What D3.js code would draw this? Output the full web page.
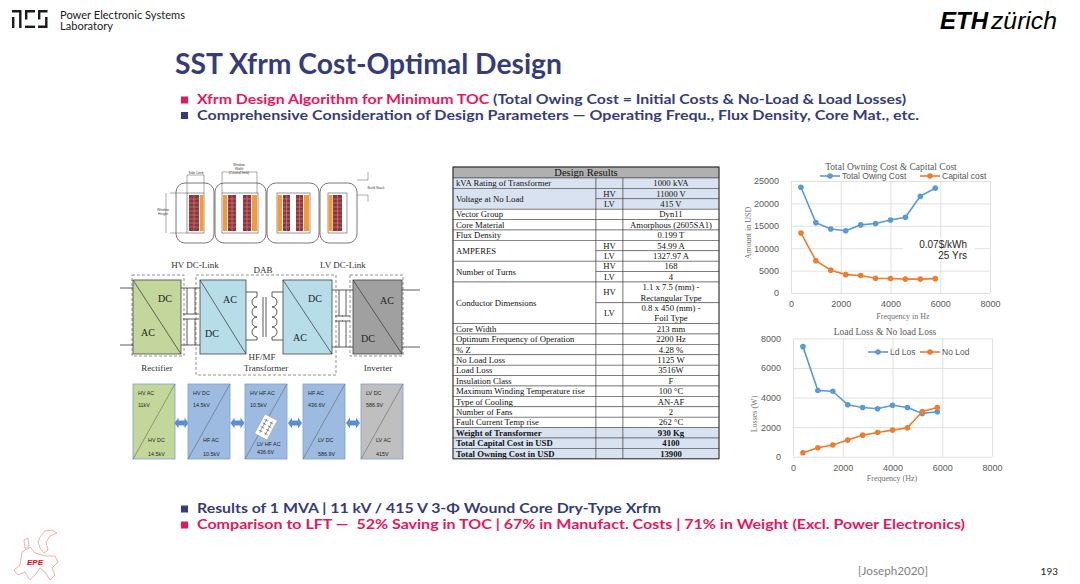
<!DOCTYPE html>
<html>
<head>
<meta charset="utf-8">
<script src="https://cdn.jsdelivr.net/npm/d3@7"></script>
<style>
  body { margin: 0; background: #fff; }
  svg { display: block; }
</style>
</head>
<body>
<div id="slide"></div>
<script>
// ---- chart data ----
const freq = [400, 1000, 1600, 2200, 2800, 3400, 4000, 4600, 5200, 5800];
const totalOwningCost = [23600, 15700, 14300, 13900, 15200, 15500, 16300, 16900, 21600, 23400];
const capitalCost = [13400, 7200, 5100, 4100, 3900, 3300, 3250, 3100, 3100, 3200];
const loadLoss = [7450, 4480, 4430, 3516, 3330, 3250, 3480, 3330, 2930, 3040];
const noLoadLoss = [270, 610, 790, 1125, 1460, 1640, 1800, 1960, 3060, 3330];
const freqTicks = [0, 2000, 4000, 6000, 8000];
const costTicks = [0, 5000, 10000, 15000, 20000, 25000];
const lossTicks = [0, 2000, 4000, 6000, 8000];

// ---- design results table ----
const paramNames = ["kVA Rating of Transformer", "Voltage at No Load", "Vector Group", "Core Material",
  "Flux Density", "AMPERES", "Number of Turns", "Conductor Dimensions", "Core Width",
  "Optimum Frequency of Operation", "% Z", "No Load Loss", "Load Loss", "Insulation Class",
  "Maximum Winding Temperature rise", "Type of Cooling", "Number of Fans", "Fault Current Temp rise",
  "Weight of Transformer", "Total Capital Cost in USD", "Total Owning Cost in USD"];
const paramSides = [[""], ["HV", "LV"], [""], [""], [""], ["HV", "LV"], ["HV", "LV"], ["HV", "LV"],
  [""], [""], [""], [""], [""], [""], [""], [""], [""], [""], [""], [""], [""]];
const paramValues = [["1000 kVA"], ["11000 V", "415 V"], ["Dyn11"], ["Amorphous (2605SA1)"], ["0.199 T"],
  ["54.99 A", "1327.97 A"], ["168", "4"],
  ["1.1 x 7.5 (mm) -\nRectangular Type", "0.8 x 450 (mm) -\nFoil Type"],
  ["213 mm"], ["2200 Hz"], ["4.28 %"], ["1125 W"], ["3516W"], ["F"], ["100 °C"], ["AN-AF"], ["2"],
  ["262 °C"], ["930 Kg"], ["4100"], ["13900"]];

// ---- converter chain labels ----
const chainTop = [["HV AC", "11kV"], ["HV DC", "14.5kV"], ["HV HF AC", "10.5kV"], ["HF AC", "436.6V"], ["LV DC", "586.9V"]];
const chainBottom = [["HV DC", "14.5kV"], ["HF AC", "10.5kV"], ["LV HF AC", "436.6V"], ["LV DC", "586.9V"], ["LV AC", "415V"]];

const blue = "#5b9bd5", orange = "#ed7d31";
const navy = "#353c78", pink = "#e8175d";
const sans = "Lato, 'Open Sans', sans-serif";
const serif = "'Liberation Serif', 'DejaVu Serif', serif";
const arial = "'Liberation Sans', Arial, sans-serif";

const svg = d3.select("#slide").append("svg")
  .attr("width", 1080).attr("height", 584);
svg.append("rect").attr("width", 1080).attr("height", 584).attr("fill", "#fff");

// ================= header =================
const logo = svg.append("g").attr("fill", "#1a1a1a");
logo.append("path").attr("d", "M12,10h9.5v18h-2.4v-15.6h-7.1z");
logo.append("rect").attr("x", 12).attr("y", 17).attr("width", 2.4).attr("height", 11);
logo.append("path").attr("d", "M25,10h10v2.4h-7.6v7h-2.4z");
logo.append("rect").attr("x", 25).attr("y", 25.6).attr("width", 10).attr("height", 2.4);
logo.append("path").attr("d", "M38,10h9.5v2.4h-7.1v7h-2.4z");
logo.append("path").attr("d", "M45.1,17h2.4v11h-9.5v-2.4h7.1z");

svg.append("text").attr("x", 60).attr("y", 18.5).attr("textLength", 125).attr("lengthAdjust", "spacingAndGlyphs")
  .style("font", `11px ${sans}`).attr("fill", "#1a1a1a").text("Power Electronic Systems");
svg.append("text").attr("x", 60).attr("y", 30).attr("textLength", 53).attr("lengthAdjust", "spacingAndGlyphs")
  .style("font", `11px ${sans}`).attr("fill", "#1a1a1a").text("Laboratory");

svg.append("text").attr("x", 940).attr("y", 29).attr("textLength", 48).attr("lengthAdjust", "spacingAndGlyphs")
  .style("font", `italic bold 24px ${arial}`).attr("fill", "#000").text("ETH");
svg.append("text").attr("x", 991).attr("y", 29).attr("textLength", 66).attr("lengthAdjust", "spacingAndGlyphs")
  .style("font", `italic 24px ${arial}`).attr("fill", "#000").text("zürich");

svg.append("text").attr("x", 175).attr("y", 74).attr("textLength", 387).attr("lengthAdjust", "spacingAndGlyphs")
  .style("font", `bold 28px ${sans}`).attr("fill", navy).text("SST Xfrm Cost-Optimal Design");

function bullet(x, y, color, parts, len) {
  svg.append("rect").attr("x", x).attr("y", y - 7.5).attr("width", 7).attr("height", 7).attr("fill", color);
  const t = svg.append("text").attr("x", x + 16).attr("y", y)
    .attr("textLength", len).attr("lengthAdjust", "spacingAndGlyphs")
    .style("font", `bold 14px ${sans}`).style("white-space", "pre");
  parts.forEach(p => t.append("tspan").attr("fill", p[1]).text(p[0]));
}
bullet(181, 104, pink, [["Xfrm Design Algorithm for Minimum TOC", pink],
  [" (Total Owing Cost = Initial Costs & No-Load & Load Losses)", navy]], 709);
bullet(181, 119.5, navy, [["Comprehensive Consideration of Design Parameters \u2014 Operating Frequ., Flux Density, Core Mat., etc.", navy]], 722);
bullet(181, 513, navy, [["Results of 1 MVA | 11 kV / 415 V 3-\u03A6 Wound Core Dry-Type Xrfm", navy]], 464);
bullet(181, 529, pink, [["Comparison to LFT \u2014  52% Saving in TOC | 67% in Manufact. Costs | 71% in Weight (Excl. Power Electronics)", pink]], 768);

// ================= core cross-section sketch =================
const core = svg.append("g");
[[176, 38], [215, 51], [267, 52], [320, 37]].forEach(c => {
  core.append("rect").attr("x", c[0]).attr("y", 183).attr("width", c[1]).attr("height", 60).attr("rx", 9)
    .attr("fill", "#fff").attr("stroke", "#555").attr("stroke-width", 0.8);
});
[[187, 17], [222, 36], [277, 33], [328, 19]].forEach(w => {
  core.append("rect").attr("x", w[0]).attr("y", 193).attr("width", w[1]).attr("height", 40)
    .attr("fill", "#fff").attr("stroke", "#555").attr("stroke-width", 0.6);
});
const windings = [[189, 10, "b"], [200, 3.5, "o"], [223, 4, "o"], [228, 8, "b"], [243, 8, "b"], [252, 5, "o"],
  [277.5, 4.5, "o"], [283, 7, "b"], [296, 7, "b"], [304, 5, "o"], [328.5, 4, "o"], [333, 9, "b"]];
windings.forEach(w => {
  core.append("rect").attr("x", w[0]).attr("y", 195).attr("width", w[1]).attr("height", 36)
    .attr("fill", w[2] === "b" ? "#93343a" : "#f39a3c");
  if (w[2] === "b") {
    for (let yy = 199; yy < 231; yy += 4)
      core.append("line").attr("x1", w[0]).attr("x2", w[0] + w[1]).attr("y1", yy).attr("y2", yy)
        .attr("stroke", "#e8c8c8").attr("stroke-width", 0.35);
    core.append("line").attr("x1", w[0] + w[1] / 2).attr("x2", w[0] + w[1] / 2).attr("y1", 195).attr("y2", 231)
      .attr("stroke", "#e8c8c8").attr("stroke-width", 0.35);
  }
});
const dim = core.append("g").attr("stroke", "#555").attr("stroke-width", 0.5).attr("fill", "none");
dim.append("path").attr("d", "M187,193V175H204V193");
dim.append("path").attr("d", "M222,193V172H257V193");
dim.append("path").attr("d", "M357,180H368V172M357,195H368V202");
dim.append("path").attr("d", "M170,193H187M170,233H187M166,193V233");
const tiny = (x, y, s) => core.append("text").attr("x", x).attr("y", y).style("font", `3.4px ${arial}`)
  .attr("fill", "#444").attr("text-anchor", "middle").text(s);
tiny(196, 173.5, "Side Limb");
tiny(239, 166, "Window"); tiny(239, 170, "Width"); tiny(239, 174, "(Central limb)");
tiny(376, 189, "Build Stack");
tiny(163, 211, "Window"); tiny(163, 215, "Height");

// ================= SST converter sketch =================
const conv = svg.append("g");
const dashed = (x, y, w, h) => conv.append("rect").attr("x", x).attr("y", y).attr("width", w).attr("height", h)
  .attr("fill", "none").attr("stroke", "#777").attr("stroke-width", 0.8).attr("stroke-dasharray", "3,2");
dashed(132, 275, 52, 81);
dashed(196, 275, 140, 100);
dashed(350, 275, 53, 81);

const wires = conv.append("g").attr("stroke", "#333").attr("stroke-width", 0.8).attr("fill", "none");
wires.append("path").attr("d", "M120,288H133M120,345H133M181,288H200M181,345H200");
wires.append("path").attr("d", "M187,288V314M183,314H191M183,319H191M187,319V345");
wires.append("path").attr("d", "M195,288V314M191,314H199M191,319H199M195,319V345");
wires.append("path").attr("d", "M332,290H353M332,347H353M402,290H420M402,347H420");
wires.append("path").attr("d", "M339,290V316M335,316H343M335,321H343M339,321V347");
wires.append("path").attr("d", "M346,290V316M342,316H350M342,321H350M346,321V347");
// transformer between the two DAB bridges
let coilL = "M246,292H257V297", coilR = "M283,292H272V297";
for (let i = 0; i < 4; i++) {
  coilL += "a5,5 0 0 0 0,10";
  coilR += "a5,5 0 0 1 0,10";
}
coilL += "V340H246"; coilR += "V340H283";
wires.append("path").attr("d", coilL);
wires.append("path").attr("d", coilR);
wires.append("path").attr("d", "M263,297V337M266,297V337");

const blockDefs = [[133, 48, "#c3d69b", ["DC", 165, 298], ["AC", 148, 332]],
  [200, 46, "#b7dde8", ["AC", 230, 299], ["DC", 212, 333]],
  [283, 49, "#b7dde8", ["DC", 315, 298], ["AC", 300, 337]],
  [353, 49, "#a0a0a0", ["AC", 387, 300], ["DC", 368, 338]]];
blockDefs.forEach(b => {
  conv.append("rect").attr("x", b[0]).attr("y", 280).attr("width", b[1]).attr("height", 74)
    .attr("fill", b[2]).attr("stroke", "#444").attr("stroke-width", 0.8);
  conv.append("line").attr("x1", b[0]).attr("y1", 280).attr("x2", b[0] + b[1]).attr("y2", 354)
    .attr("stroke", "#333").attr("stroke-width", 0.7);
  [b[3], b[4]].forEach(l => conv.append("text").attr("x", l[1]).attr("y", l[2]).attr("dy", "0.35em")
    .attr("text-anchor", "middle").style("font", `10px ${serif}`).attr("fill", "#222").text(l[0]));
});
const convLabel = (s, x, y) => conv.append("text").attr("x", x).attr("y", y).attr("dy", "0.35em")
  .attr("text-anchor", "middle").style("font", `9px ${serif}`).attr("fill", "#333").text(s);
convLabel("HV DC-Link", 195, 265);
convLabel("DAB", 263, 270);
convLabel("LV DC-Link", 343, 265);
convLabel("Rectifier", 157, 368);
convLabel("HF/MF", 262, 357);
convLabel("Transformer", 266, 368);
convLabel("Inverter", 378, 368);

// ================= voltage chain =================
const chainX = [133, 188, 245, 303, 361];
const chainFill = ["#c4d79b", "#9dbbe0", "#9dbbe0", "#9dbbe0", "#bfbfbf"];
const chain = svg.append("g");
chainX.forEach((x, i) => {
  chain.append("rect").attr("x", x).attr("y", 384).attr("width", 42).attr("height", 75)
    .attr("fill", chainFill[i]).attr("stroke", "#7f9fcf").attr("stroke-width", 0.8);
  chain.append("line").attr("x1", x).attr("y1", 459).attr("x2", x + 42).attr("y2", 384)
    .attr("stroke", "#555").attr("stroke-width", 0.5);
  const small = (s, xx, yy) => chain.append("text").attr("x", xx).attr("y", yy).attr("dy", "0.35em")
    .style("font", `5.4px ${arial}`).attr("fill", "#222").text(s);
  small(chainTop[i][0], x + 5, 393);
  small(chainTop[i][1], x + 5, 405);
  const bx = i === 2 ? x + 12 : x + 15;
  small(chainBottom[i][0], bx, i === 2 ? 444 : 440);
  small(chainBottom[i][1], bx, i === 2 ? 452 : 454);
  if (i < 4) {
    const cx = (x + 42 + chainX[i + 1]) / 2;
    chain.append("path").attr("transform", `translate(${cx},423)`)
      .attr("d", "M-7,0L-3,-5.5V-2.5H3V-5.5L7,0L3,5.5V2.5H-3V5.5Z").attr("fill", "#5b8fd0");
  }
});
const icon = chain.append("g").attr("transform", "translate(266,427) rotate(28)");
icon.append("rect").attr("x", -7).attr("y", -11).attr("width", 14).attr("height", 22)
  .attr("fill", "#fff").attr("stroke", "#999").attr("stroke-width", 0.5);
icon.append("path").attr("d", "M-3,-8V8M3,-8V8M-5,-6H-1M-5,-2H-1M-5,2H-1M-5,6H-1M1,-6H5M1,-2H5M1,2H5M1,6H5")
  .attr("stroke", "#444").attr("stroke-width", 0.5).attr("fill", "none");

// ================= design results table =================
const cols = [453, 596, 623, 719];
const unit = 10.4;
const tbl = svg.append("g");
const shaded = new Set([0, 1, 18, 19, 20]);
const bold = new Set([18, 19, 20]);
tbl.append("rect").attr("x", cols[0]).attr("y", 167).attr("width", cols[3] - cols[0]).attr("height", 11)
  .attr("fill", "#b0b0b0").attr("stroke", "#404040").attr("stroke-width", 0.7);
tbl.append("text").attr("x", (cols[0] + cols[3]) / 2).attr("y", 172.7).attr("dy", "0.35em")
  .attr("text-anchor", "middle").style("font", `10.5px ${serif}`).attr("fill", "#111").text("Design Results");

let cy = 178;
paramNames.forEach((name, i) => {
  const subs = paramValues[i].map(v => v.split("\n"));
  const groupH = d3.sum(subs, s => s.length) * unit;
  const fill = shaded.has(i) ? "#d9e2f0" : "#fff";
  const weight = bold.has(i) ? "bold " : "";
  tbl.append("rect").attr("x", cols[0]).attr("y", cy).attr("width", cols[1] - cols[0]).attr("height", groupH)
    .attr("fill", fill).attr("stroke", "#505050").attr("stroke-width", 0.6);
  tbl.append("text").attr("x", cols[0] + 3).attr("y", cy + groupH / 2).attr("dy", "0.35em")
    .style("font", `${weight}8.7px ${serif}`).attr("fill", "#111").text(name);
  let sy = cy;
  subs.forEach((lines, j) => {
    const h = lines.length * unit;
    [[cols[1], cols[2]], [cols[2], cols[3]]].forEach(c => {
      tbl.append("rect").attr("x", c[0]).attr("y", sy).attr("width", c[1] - c[0]).attr("height", h)
        .attr("fill", fill).attr("stroke", "#505050").attr("stroke-width", 0.6);
    });
    tbl.append("text").attr("x", (cols[1] + cols[2]) / 2).attr("y", sy + h / 2).attr("dy", "0.35em")
      .attr("text-anchor", "middle").style("font", `8.7px ${serif}`).attr("fill", "#111").text(paramSides[i][j]);
    lines.forEach((ln, k) => {
      tbl.append("text").attr("x", (cols[2] + cols[3]) / 2).attr("y", sy + unit * (k + 0.5)).attr("dy", "0.35em")
        .attr("text-anchor", "middle").style("font", `${weight}8.7px ${serif}`).attr("fill", "#111").text(ln);
    });
    sy += h;
  });
  cy += groupH;
});
tbl.append("rect").attr("x", cols[0]).attr("y", 167).attr("width", cols[3] - cols[0]).attr("height", cy - 167)
  .attr("fill", "none").attr("stroke", "#404040").attr("stroke-width", 1);

// ================= line charts =================
function drawChart(cfg) {
  const g = svg.append("g");
  const x = d3.scaleLinear().domain([0, 8000]).range([cfg.left, cfg.right]);
  const y = d3.scaleLinear().domain([0, cfg.yTicks[cfg.yTicks.length - 1]]).range([cfg.bottom, cfg.top]);

  g.append("g").attr("transform", `translate(${cfg.left},0)`)
    .call(d3.axisLeft(y).tickValues(cfg.yTicks).tickFormat(d3.format("d"))
      .tickSize(-(cfg.right - cfg.left)).tickPadding(12));
  g.append("g").attr("transform", `translate(0,${cfg.bottom})`)
    .call(d3.axisBottom(x).tickValues(freqTicks).tickFormat(d3.format("d"))
      .tickSize(-(cfg.bottom - cfg.top)).tickPadding(8));
  g.selectAll(".domain").remove();
  g.selectAll(".tick line").attr("stroke", "#d9d9d9").attr("stroke-width", 0.8);
  g.selectAll(".tick text").attr("fill", "#595959").style("font", `9px ${arial}`);

  if (cfg.note) {
    g.append("rect").attr("x", 903).attr("y", 237).attr("width", 72).attr("height", 23).attr("fill", "#fff");
    g.append("text").attr("x", 967).attr("y", 244.5).attr("dy", "0.35em").attr("text-anchor", "end")
      .style("font", `10px ${arial}`).attr("fill", "#262626").text(cfg.note[0]);
    g.append("text").attr("x", 967).attr("y", 255).attr("dy", "0.35em").attr("text-anchor", "end")
      .style("font", `10px ${arial}`).attr("fill", "#262626").text(cfg.note[1]);
  }

  const line = d3.line().x((d, i) => x(freq[i])).y(d => y(d));
  cfg.series.forEach(s => {
    g.append("path").datum(s.values).attr("d", line).attr("fill", "none")
      .attr("stroke", s.color).attr("stroke-width", 1.6);
    g.selectAll(null).data(s.values).join("circle")
      .attr("cx", (d, i) => x(freq[i])).attr("cy", d => y(d)).attr("r", 2.8).attr("fill", s.color);
    // legend entry
    g.append("line").attr("x1", s.lx).attr("x2", s.lx + 20).attr("y1", cfg.legendY).attr("y2", cfg.legendY)
      .attr("stroke", s.color).attr("stroke-width", 1.6);
    g.append("circle").attr("cx", s.lx + 10).attr("cy", cfg.legendY).attr("r", 2.8).attr("fill", s.color);
    g.append("text").attr("x", s.lx + 22).attr("y", cfg.legendY).attr("dy", "0.35em")
      .style("font", `8.5px ${arial}`).attr("fill", "#595959").text(s.name);
  });

  g.append("text").attr("x", cfg.titleX).attr("y", cfg.titleY).attr("dy", "0.35em").attr("text-anchor", "middle")
    .style("font", `9.5px ${serif}`).attr("fill", "#595959").text(cfg.title);
  g.append("text").attr("x", cfg.xTitleX).attr("y", cfg.xTitleY).attr("dy", "0.35em").attr("text-anchor", "middle")
    .style("font", `8px ${serif}`).attr("fill", "#707070").text(cfg.xTitle);
  g.append("text").attr("transform", `translate(${cfg.yTitleX},${cfg.yTitleY}) rotate(-90)`)
    .attr("dy", "0.35em").attr("text-anchor", "middle")
    .style("font", `8px ${serif}`).attr("fill", "#707070").text(cfg.yTitle);
}

drawChart({
  left: 791, right: 990, top: 181, bottom: 293, yTicks: costTicks,
  title: "Total Owning Cost & Capital Cost", titleX: 891, titleY: 167,
  xTitle: "Frequency in Hz", xTitleX: 903, xTitleY: 316,
  yTitle: "Amount in USD", yTitleX: 748, yTitleY: 233,
  legendY: 176, note: ["0.07$/kWh", "25 Yrs"],
  series: [{ name: "Total Owing Cost", values: totalOwningCost, color: blue, lx: 820 },
           { name: "Capital cost", values: capitalCost, color: orange, lx: 920 }]
});
drawChart({
  left: 793, right: 992, top: 338.5, bottom: 456.7, yTicks: lossTicks,
  title: "Load Loss & No load Loss", titleX: 885, titleY: 332,
  xTitle: "Frequency (Hz)", xTitleX: 892, xTitleY: 478.5,
  yTitle: "Losses (W)", yTitleX: 754, yTitleY: 414,
  legendY: 352,
  series: [{ name: "Ld Los", values: loadLoss, color: blue, lx: 868 },
           { name: "No Lod", values: noLoadLoss, color: orange, lx: 920 }]
});

// ================= footer =================
const epe = svg.append("g").attr("fill", "none").attr("stroke", "#f08a8a").attr("stroke-width", 0.7);
epe.append("path").attr("d", "M40,537L45,531L52,530L57,533L50,536L46,542L48,550L44,553L40,548L38,542Z");
epe.append("path").attr("d", "M22,552L30,547L35,553L45,556L55,556L58,562L52,568L55,575L50,580L45,572L40,568L35,575L30,580L25,572L18,575L14,570L20,565Z");
epe.append("path").attr("d", "M24,540L28,538L29,546L25,549Z");
svg.append("text").attr("x", 27).attr("y", 565).style("font", `italic bold 8px ${arial}`)
  .attr("fill", "#e30613").text("EPE");

svg.append("text").attr("x", 858).attr("y", 571).attr("dy", "0.35em").attr("textLength", 70)
  .attr("lengthAdjust", "spacingAndGlyphs").style("font", `11px ${sans}`).attr("fill", "#7f7f7f").text("[Joseph2020]");
svg.append("text").attr("x", 1058).attr("y", 571).attr("dy", "0.35em").attr("text-anchor", "end")
  .style("font", `10px ${sans}`).attr("fill", "#222").text("193");
</script>
</body>
</html>
